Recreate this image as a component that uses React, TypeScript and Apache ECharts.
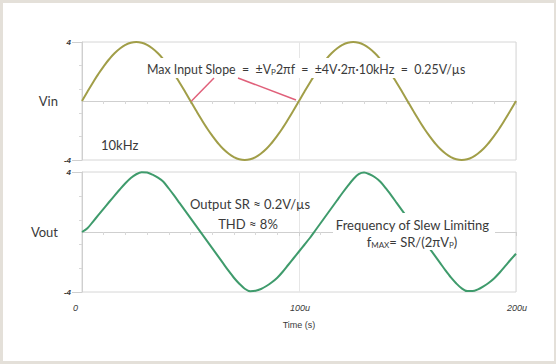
import React, { useEffect, useRef } from "react";
import * as echarts from "echarts";

// time in microseconds
const timeUs = [
  0, 2.5, 5, 7.5, 10, 12.5, 15, 17.5, 20, 22.5, 25, 27.5, 30, 32.5, 35, 37.5, 40, 42.5, 45, 47.5,
  50, 52.5, 55, 57.5, 60, 62.5, 65, 67.5, 70, 72.5, 75, 77.5, 80, 82.5, 85, 87.5, 90, 92.5, 95, 97.5,
  100, 102.5, 105, 107.5, 110, 112.5, 115, 117.5, 120, 122.5, 125, 127.5, 130, 132.5, 135, 137.5, 140, 142.5, 145, 147.5,
  150, 152.5, 155, 157.5, 160, 162.5, 165, 167.5, 170, 172.5, 175, 177.5, 180, 182.5, 185, 187.5, 190, 192.5, 195, 197.5,
  200,
];

const vinValues = [
  0, 0.63, 1.24, 1.82, 2.35, 2.83, 3.24, 3.56, 3.8, 3.95, 4.0,
  3.95, 3.8, 3.56, 3.24, 2.83, 2.35, 1.82, 1.24, 0.63, 0,
  -0.63, -1.24, -1.82, -2.35, -2.83, -3.24, -3.56, -3.8, -3.95, -4.0,
  -3.95, -3.8, -3.56, -3.24, -2.83, -2.35, -1.82, -1.24, -0.63, 0,
  0.63, 1.24, 1.82, 2.35, 2.83, 3.24, 3.56, 3.8, 3.95, 4.0,
  3.95, 3.8, 3.56, 3.24, 2.83, 2.35, 1.82, 1.24, 0.63, 0,
  -0.63, -1.24, -1.82, -2.35, -2.83, -3.24, -3.56, -3.8, -3.95, -4.0,
  -3.95, -3.8, -3.56, -3.24, -2.83, -2.35, -1.82, -1.24, -0.63, 0,
];

const voutValues = [
  0, 0.25, 0.68, 1.12, 1.56, 2.0, 2.43, 2.85, 3.25, 3.6, 3.85, 3.98, 3.96, 3.82, 3.62, 3.35, 2.9, 2.42, 1.92, 1.42,
  0.92, 0.42, -0.08, -0.58, -1.08, -1.58, -2.08, -2.58, -3.05, -3.45, -3.78, -3.95, -3.92, -3.8, -3.6, -3.35, -3.05, -2.65, -2.2, -1.75,
  -1.3, -0.85, -0.4, 0.1, 0.6, 1.1, 1.6, 2.1, 2.6, 3.08, 3.52, 3.86, 3.97, 3.85, 3.65, 3.35, 2.92, 2.44, 1.94, 1.44,
  0.94, 0.44, -0.06, -0.56, -1.06, -1.56, -2.06, -2.56, -3.03, -3.43, -3.76, -3.94, -3.94, -3.82, -3.62, -3.38, -3.08, -2.7, -2.28, -1.85,
  -1.45,
];

const xTickValues = [0, 100, 200];
const xTickLabels = ["0", "100u", "200u"];
const yLabelValues = [-4, 4];
const yMinorTickValues = [-2.4, -0.8, 0.8, 2.4];
const panelNames = ["Vin", "Vout"];
const xAxisTitle = "Time (s)";
const freqText = "10kHz";
const slopeText = "Max Input Slope  =  \u00b1V{sub|P}2\u03c0f  =  \u00b14V\u00b72\u03c0\u00b710kHz  =  0.25V/\u00b5s";
const srText = "Output SR \u2248 0.2V/\u00b5s";
const thdText = "THD \u2248 8%";
const slewTitle = "Frequency of Slew Limiting";
const slewFormula = "f{sub|MAX}= SR/(2\u03c0V{sub|P})";

const FONT = "Lato, 'Open Sans', sans-serif";
const AXIS_FONT = "Arial, 'Liberation Sans', sans-serif";
const AXIS_COLOR = "#cfcfcf";
const LABEL_COLOR = "#3a3a3a";

export default function App() {
  const ref = useRef<HTMLDivElement>(null);

  useEffect(() => {
    if (!ref.current) return;
    const chart = echarts.init(ref.current, undefined, { renderer: "svg" });

    const xAxisFor = (gridIndex: number, showLabels: boolean) => ({
      gridIndex,
      type: "value",
      min: 0,
      max: 200,
      interval: 100,
      axisLine: { show: true, lineStyle: { color: AXIS_COLOR } },
      axisTick: { show: true, length: 4, lineStyle: { color: AXIS_COLOR } },
      minorTick: { show: true, splitNumber: 10, length: 3, lineStyle: { color: "#d8d8d8" } },
      splitLine: { show: true, lineStyle: { color: "#e6e6e6" } },
      axisLabel: {
        show: showLabels,
        margin: 11,
        fontSize: 9,
        fontStyle: "italic",
        fontFamily: AXIS_FONT,
        color: LABEL_COLOR,
        align: "left",
        padding: [0, 0, 0, -9],
        formatter: (v: number) => {
          const i = xTickValues.indexOf(v);
          return i >= 0 ? xTickLabels[i] : "";
        },
      },
      name: showLabels ? xAxisTitle : "",
      nameLocation: "middle",
      nameGap: 28,
      nameTextStyle: { fontSize: 9, color: LABEL_COLOR, fontFamily: AXIS_FONT },
    });

    const yMainFor = (gridIndex: number) => ({
      gridIndex,
      type: "value",
      min: -4,
      max: 4,
      axisLine: { show: true, lineStyle: { color: AXIS_COLOR } },
      axisTick: { show: true, customValues: yLabelValues, length: 10, lineStyle: { color: AXIS_COLOR } },
      axisLabel: {
        customValues: yLabelValues,
        margin: 11,
        fontSize: 8,
        fontStyle: "italic",
        fontWeight: "bold",
        fontFamily: AXIS_FONT,
        color: LABEL_COLOR,
      },
      splitLine: { show: false },
      name: panelNames[gridIndex],
      nameLocation: "middle",
      nameRotate: 0,
      nameGap: 21,
      nameTextStyle: { fontSize: 13, fontFamily: FONT, color: LABEL_COLOR },
    });

    const yMinorFor = (gridIndex: number) => ({
      gridIndex,
      type: "value",
      min: -4,
      max: 4,
      position: "left",
      axisLine: { show: false },
      axisTick: { show: true, customValues: yMinorTickValues, length: 3, lineStyle: { color: "#d8d8d8" } },
      axisLabel: { show: false },
      splitLine: { show: false },
    });

    const subRich = {
      sub: { fontSize: 8, fontFamily: FONT, color: LABEL_COLOR, verticalAlign: "bottom", lineHeight: 12, padding: [7, 0, 0, 0] },
    };

    const annot = (text: string, x: number, y: number, align: string, size = 13) => ({
      type: "text",
      z: 101,
      x,
      y,
      style: { text, fontSize: size, fontFamily: FONT, fill: LABEL_COLOR, textAlign: align, textVerticalAlign: "middle" },
    });

    chart.setOption({
      animation: false,
      backgroundColor: "#ffffff",
      grid: [
        { left: 82, top: 42, width: 434, height: 118, show: true, borderColor: "#d6d6d6", borderWidth: 1 },
        { left: 82, top: 172, width: 434, height: 120, show: true, borderColor: "#d6d6d6", borderWidth: 1 },
      ],
      xAxis: [xAxisFor(0, false), xAxisFor(1, true)],
      yAxis: [yMainFor(0), yMinorFor(0), yMainFor(1), yMinorFor(1)],
      series: [
        {
          type: "line",
          xAxisIndex: 0,
          yAxisIndex: 0,
          data: timeUs.map((t, i) => [t, vinValues[i]]),
          showSymbol: false,
          smooth: true,
          lineStyle: { color: "#a19e48", width: 2 },
        },
        {
          type: "line",
          xAxisIndex: 1,
          yAxisIndex: 2,
          data: timeUs.map((t, i) => [t, voutValues[i]]),
          showSymbol: false,
          smooth: 0.3,
          lineStyle: { color: "#3f9b6c", width: 2 },
        },
      ],
      graphic: [
        {
          type: "rect",
          z: 100,
          shape: { x: 1.5, y: 1.5, width: 554, height: 361 },
          style: { fill: "none", stroke: "#e4e0d9", lineWidth: 3 },
        },
        {
          type: "rect",
          z: 100,
          shape: { x: 143, y: 58, width: 327, height: 20 },
          style: { fill: "#ffffff" },
        },
        {
          type: "text",
          z: 101,
          x: 147,
          y: 69,
          style: {
            text: slopeText,
            rich: subRich,
            fontSize: 12.4,
            fontFamily: FONT,
            fill: LABEL_COLOR,
            textAlign: "left",
            textVerticalAlign: "middle",
            lineHeight: 14,
          },
        },
        {
          type: "line",
          z: 101,
          shape: { x1: 214, y1: 78, x2: 191.5, y2: 101 },
          style: { stroke: "#e0607a", lineWidth: 1.5 },
        },
        {
          type: "line",
          z: 101,
          shape: { x1: 238, y1: 78, x2: 296, y2: 100 },
          style: { stroke: "#e0607a", lineWidth: 1.5 },
        },
        annot(freqText, 101, 145, "left"),
        annot(srText, 250, 204, "center"),
        annot(thdText, 248, 224, "center"),
        {
          type: "rect",
          z: 100,
          shape: { x: 333, y: 213, width: 162, height: 37 },
          style: { fill: "#ffffff" },
        },
        annot(slewTitle, 412.5, 225, "center"),
        {
          type: "text",
          z: 101,
          x: 412,
          y: 242,
          style: {
            text: slewFormula,
            rich: subRich,
            fontSize: 13,
            fontFamily: FONT,
            fill: LABEL_COLOR,
            textAlign: "center",
            textVerticalAlign: "middle",
            lineHeight: 14,
          },
        },
      ],
    });

    return () => chart.dispose();
  }, []);

  return (
    <div
      ref={ref}
      style={{ position: "absolute", left: 0, top: 0, width: 556, height: 364, background: "#ffffff" }}
    />
  );
}
